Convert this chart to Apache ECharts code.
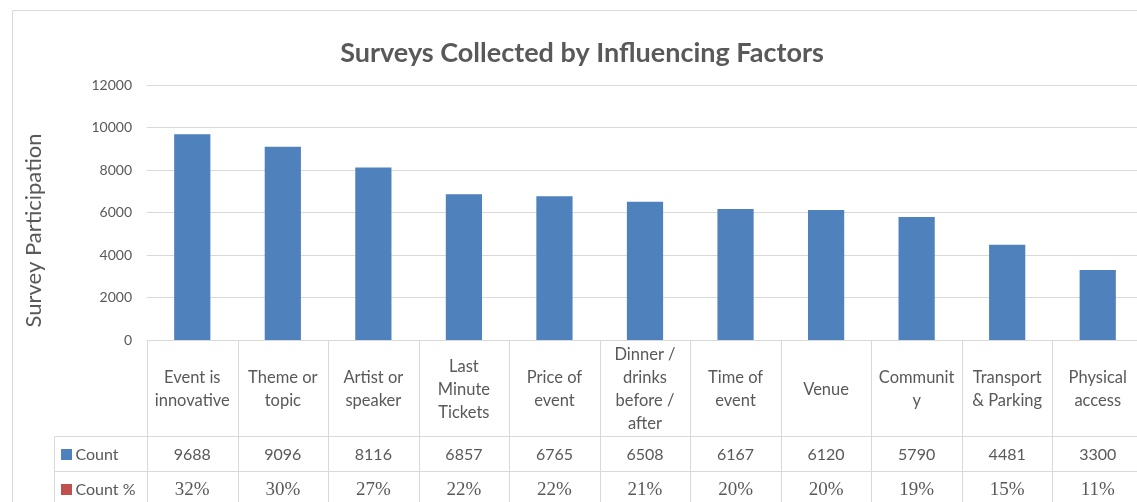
<!DOCTYPE html>
<html>
<head>
<meta charset="utf-8">
<script src="https://cdn.jsdelivr.net/npm/echarts@6/dist/echarts.min.js"></script>
<style>
  html, body { margin: 0; padding: 0; background: #ffffff; overflow: hidden; }
  /* the chart frame runs a little past the right edge of the window */
  #chart { width: 1150px; height: 502px; }
</style>
</head>
<body>
<div id="chart"></div>
<script>
// Influencing factors, as printed in the data table header
const categories = [
  'Event is\ninnovative',
  'Theme or\ntopic',
  'Artist or\nspeaker',
  'Last\nMinute\nTickets',
  'Price of\nevent',
  'Dinner /\ndrinks\nbefore /\nafter',
  'Time of\nevent',
  'Venue',
  'Communit\ny',
  'Transport\n& Parking',
  'Physical\naccess'
];

// Number of surveys citing each factor
const counts = [9688, 9096, 8116, 6857, 6765, 6508, 6167, 6120, 5790, 4481, 3300];

// Share of respondents citing each factor
const countPercents = ['32%', '30%', '27%', '22%', '22%', '21%', '20%', '20%', '19%', '15%', '11%'];

// Data table row names and their key colours
const rowNames = ['Count', 'Count %'];
const rowColors = ['#4F81BD', '#C0504D'];

// Layout / style constants
const LINE = '#D9D9D9';
const TEXT = '#595959';
const SANS = 'Lato, "Open Sans", sans-serif';
const SERIF = '"Liberation Serif", "DejaVu Serif", serif';
const HEADER_H = 96;
const ROW_H = 35;
const KEY_W = 94;

const px = v => Math.round(v) + 0.5;

// Draws one column of the data table below the plot (plus the key column for the first one)
function renderTableColumn(params, api) {
  const i = api.value(0);
  const cs = params.coordSys;
  const cx = api.coord([i, 0])[0];
  const bw = api.size([1, 0])[0];
  const top = cs.y + cs.height;
  const xl = px(cx - bw / 2);
  const xr = px(cx + bw / 2);
  const yRows = [top, top + HEADER_H, top + HEADER_H + ROW_H, top + HEADER_H + 2 * ROW_H].map(px);
  const ls = { stroke: LINE, lineWidth: 1 };
  const children = [];

  children.push({ type: 'line', shape: { x1: xl, y1: yRows[0], x2: xl, y2: yRows[3] }, style: ls });
  children.push({ type: 'line', shape: { x1: xr, y1: yRows[0], x2: xr, y2: yRows[3] }, style: ls });
  for (let r = 1; r < yRows.length; r++) {
    children.push({ type: 'line', shape: { x1: xl, y1: yRows[r], x2: xr, y2: yRows[r] }, style: ls });
  }

  children.push({
    type: 'text',
    style: {
      text: categories[i], x: cx, y: (yRows[0] + yRows[1]) / 2 + 1,
      align: 'center', verticalAlign: 'middle',
      fontSize: 16.5, lineHeight: 23, fontFamily: SANS, fill: TEXT
    }
  });
  children.push({
    type: 'text',
    style: {
      text: String(counts[i]), x: cx, y: (yRows[1] + yRows[2]) / 2 + 1,
      align: 'center', verticalAlign: 'middle',
      fontSize: 16, fontFamily: SANS, fill: TEXT
    }
  });
  children.push({
    type: 'text',
    style: {
      text: countPercents[i], x: cx, y: (yRows[2] + yRows[3]) / 2 + 1,
      align: 'center', verticalAlign: 'middle',
      fontSize: 19, fontFamily: SERIF, fill: TEXT
    }
  });

  if (i === 0) {
    const kl = px(xl - KEY_W);
    children.push({ type: 'line', shape: { x1: kl, y1: yRows[1], x2: kl, y2: yRows[3] }, style: ls });
    for (let r = 1; r < yRows.length; r++) {
      children.push({ type: 'line', shape: { x1: kl, y1: yRows[r], x2: xl, y2: yRows[r] }, style: ls });
    }
    rowNames.forEach((name, r) => {
      const cy = (yRows[r + 1] + yRows[r + 2]) / 2;
      children.push({
        type: 'rect',
        shape: { x: kl + 6.5, y: Math.round(cy) - 5, width: 11, height: 11 },
        style: { fill: rowColors[r] }
      });
      children.push({
        type: 'text',
        style: {
          text: name, x: kl + 21, y: cy + 1,
          align: 'left', verticalAlign: 'middle',
          fontSize: 16, fontFamily: SANS, fill: TEXT
        }
      });
    });
  }

  return { type: 'group', children };
}

const chart = echarts.init(document.getElementById('chart'), null, { renderer: 'canvas' });

chart.setOption({
  animation: false,
  backgroundColor: '#ffffff',
  title: {
    text: 'Surveys Collected by Influencing Factors',
    left: 577,
    textAlign: 'center',
    top: 35,
    textStyle: { fontFamily: SANS, fontWeight: 'bold', fontSize: 27, color: TEXT }
  },
  graphic: [{
    type: 'rect',
    left: 10, top: 8,
    shape: { x: 0, y: 0, width: 1145, height: 510 },
    style: { fill: 'none', stroke: LINE, lineWidth: 1 },
    silent: true, z: -1
  }],
  grid: { left: 147, right: 7, top: 85, bottom: 162, containLabel: false },
  xAxis: {
    type: 'category',
    data: categories,
    axisLine: { show: true, lineStyle: { color: LINE, width: 1 } },
    axisTick: { show: false },
    axisLabel: { show: false },
    splitLine: { show: false }
  },
  yAxis: {
    type: 'value',
    min: 0, max: 12000, interval: 2000,
    name: 'Survey Participation',
    nameLocation: 'middle',
    nameGap: 102,
    nameTextStyle: { fontFamily: SANS, fontSize: 22, color: TEXT, padding: [0, 36, 0, 0] },
    axisLine: { show: false },
    axisTick: { show: false },
    axisLabel: { fontFamily: SANS, fontSize: 14, color: TEXT, margin: 15, formatter: v => String(v) },
    splitLine: { lineStyle: { color: LINE, width: 1 } }
  },
  series: [
    {
      name: 'Count',
      type: 'bar',
      data: counts,
      barWidth: '40%',
      itemStyle: { color: '#4F81BD' },
      silent: true
    },
    {
      name: 'Data table',
      type: 'custom',
      data: categories.map((c, i) => [i, 0]),
      encode: { x: 0, y: 1 },
      renderItem: renderTableColumn,
      silent: true,
      clip: false,
      z: 3
    }
  ]
});
</script>
</body>
</html>
